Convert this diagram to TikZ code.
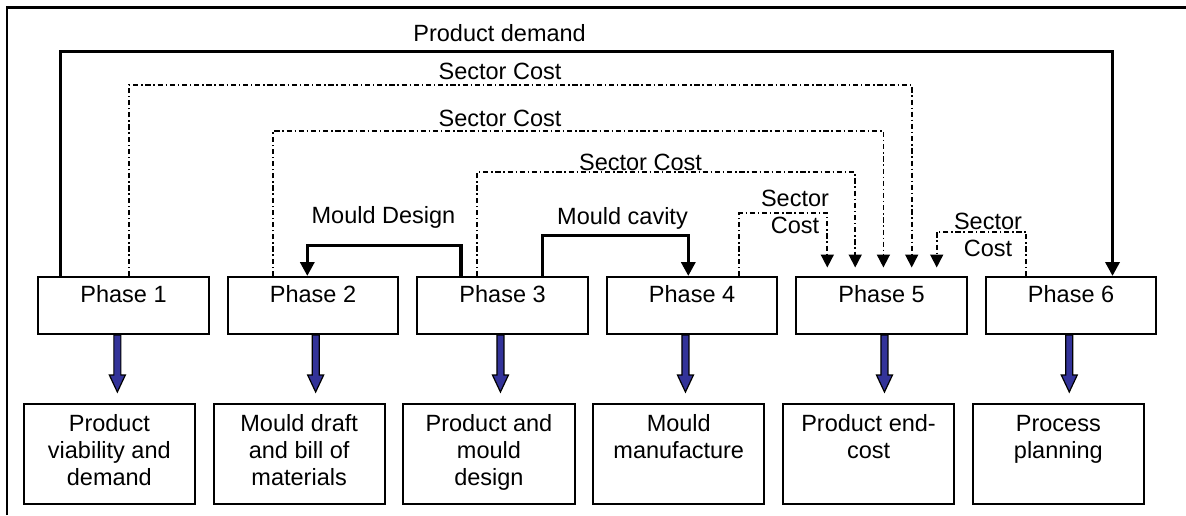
\documentclass[tikz,border=0pt]{standalone}
\usepackage{fontspec}
\setmainfont{Liberation Sans}
\usetikzlibrary{arrows.meta,calc}
\definecolor{arrowblue}{RGB}{51,51,153}
\newcommand\mystack[1]{\begin{tabular}[t]{@{}c@{}}#1\end{tabular}}
\newcommand\blockarrow[2]{\filldraw[blockarrow] ($(#1.south)+(#2-3.5,0)$) -- ++(0,40) -- ++(-4.5,0) -- ++(8,17) -- ++(8,-17) -- ++(-4.5,0) -- ++(0,-40) -- cycle;}
\begin{document}
\begin{tikzpicture}[x=0.5pt,y=-0.5pt,
  font=\fontsize{11.75}{13.5}\selectfont,
  phasebox/.style={draw, line width=1pt, anchor=north west, minimum width=85.25pt, minimum height=28.5pt, inner sep=0pt, text height=12.85pt, text depth=15.65pt},
  outbox/.style={draw, line width=1pt, anchor=north west, minimum width=85.65pt, minimum height=50pt, inner sep=0pt, text height=13.4pt, text depth=36.6pt},
  thickarrow/.style={line width=1.7pt, -{Triangle[length=7pt,width=7pt]}},
  dashdot/.style={line width=0.85pt, dash pattern=on 2.6pt off 1.4pt on 0.7pt off 1.4pt},
  dasharrow/.style={dashdot, -{Triangle[length=6.5pt,width=6.5pt]}},
  blockarrow/.style={fill=arrowblue, draw=black, line width=0.6pt},
  lbl/.style={inner sep=0pt, align=center},
  frame/.style={line width=1.2pt}
]
\useasboundingbox (0,0) rectangle (1186,515);
\draw[frame] (6.9,515) -- (6.9,7.3) -- (1186,7.3);

% phase boxes
\node[phasebox] (p1) at (37.3,276) {Phase 1};
\node[phasebox] (p2) at (226.8,276) {Phase 2};
\node[phasebox] (p3) at (416.3,276) {Phase 3};
\node[phasebox] (p4) at (605.8,276) {Phase 4};
\node[phasebox] (p5) at (795.3,276) {Phase 5};
\node[phasebox] (p6) at (984.8,276) {Phase 6};

% output boxes
\node[outbox] (o1) at (22.7,403.3) {\mystack{Product\\viability and\\demand}};
\node[outbox] (o2) at (212.5,403.3) {\mystack{Mould draft\\and bill of\\materials}};
\node[outbox] (o3) at (402.3,403.3) {\mystack{Product and\\mould\\design}};
\node[outbox] (o4) at (592.1,403.3) {\mystack{Mould\\manufacture}};
\node[outbox] (o5) at (781.9,403.3) {\mystack{Product end-\\cost}};
\node[outbox] (o6) at (971.7,403.3) {\mystack{Process\\planning}};

% block arrows
\blockarrow{p1}{-6.2}
\blockarrow{p2}{2.6}
\blockarrow{p3}{-2.1}
\blockarrow{p4}{-6.6}
\blockarrow{p5}{2.9}
\blockarrow{p6}{-1.8}

% product demand
\draw[thickarrow] ($(p1.north west)+(23.4,0)$) |- ($(p6.north west)+(127.7,-224.3)$) -- ($(p6.north west)+(127.7,0)$);
% sector costs
\draw[dasharrow] ($(p1.north west)+(91.7,0)$) |- ($(p5.north west)+(116.4,-191)$) -- ($(p5.north west)+(116.4,-8.5)$);
\draw[dasharrow] ($(p2.north west)+(46.1,0)$) |- ($(p5.north west)+(88.1,-145)$) -- ($(p5.north west)+(88.1,-8.5)$);
\draw[dasharrow] ($(p3.north west)+(60.7,0)$) |- ($(p5.north west)+(59.9,-103.7)$) -- ($(p5.north west)+(59.9,-8.5)$);
\draw[dasharrow] ($(p4.north west)+(133.5,0)$) |- ($(p5.north west)+(32,-62.7)$) -- ($(p5.north west)+(32,-8.5)$);
\draw[dasharrow] ($(p6.north west)+(41.2,0)$) |- ($(p5.north west)+(141.4,-44.3)$) -- ($(p5.north west)+(141.4,-8.5)$);
% mould design / cavity
\draw[thickarrow] ($(p3.north west)+(44.7,0)$) |- ($(p2.north west)+(80.5,-30.3)$) -- ($(p2.north west)+(80.5,0)$);
\draw[thickarrow] ($(p3.north west)+(126,0)$) |- ($(p4.north west)+(82.5,-40.3)$) -- ($(p4.north west)+(82.5,0)$);

% labels
\node[lbl] (tdemand) at (499.6,33.3) {Product demand};
\node[lbl] (tsc1) at (500,71) {Sector Cost};
\node[lbl] (tsc2) at (500,118.3) {Sector Cost};
\node[lbl] (tsc3) at (640.5,162.7) {Sector Cost};
\node[lbl] (tsc4) at (795,212.2) {Sector\\Cost};
\node[lbl] (tsc5) at (988,235) {Sector\\Cost};
\node[lbl] (tmd) at (383.5,217) {Mould Design};
\node[lbl] (tmc) at (622.5,218.5) {Mould cavity};
\end{tikzpicture}
\end{document}
